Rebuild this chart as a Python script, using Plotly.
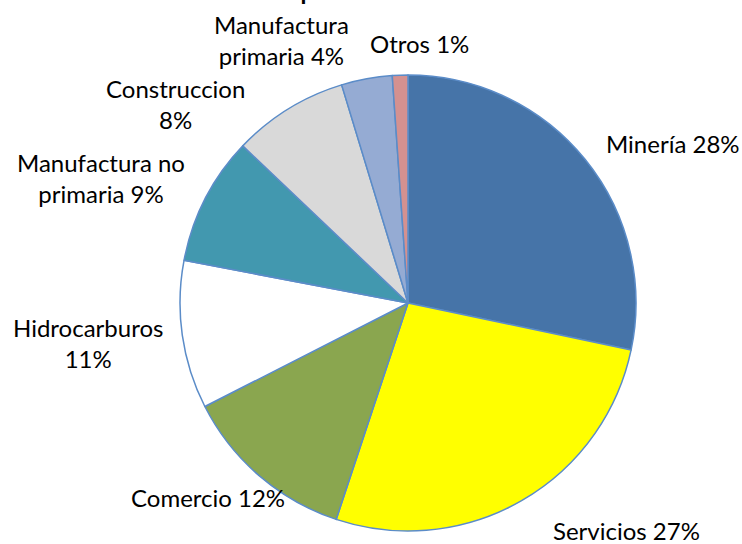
import plotly.graph_objects as go

W, H = 742, 544

categories = ["Minería", "Servicios", "Comercio", "Hidrocarburos",
              "Manufactura no primaria", "Construccion",
              "Manufactura primaria", "Otros"]
values = [28.3, 26.8, 12.4, 10.5, 9.1, 8.2, 3.6, 1.1]
pct_labels = ["28%", "27%", "12%", "11%", "9%", "8%", "4%", "1%"]
label_texts = ["Minería 28%", "Servicios 27%", "Comercio 12%",
               "Hidrocarburos<br>11%", "Manufactura no<br>primaria 9%",
               "Construccion<br>8%", "Manufactura<br>primaria 4%", "Otros 1%"]
title_text = "Recaudación por sectores<br>de Impuesto a la Renta"

colors = ["#4674A8", "#FFFF00", "#8AA64F", "#FFFFFF",
          "#4298AF", "#D9D9D9", "#95ABD3", "#D49190"]

# label centre positions in pixels (layout only)
label_px = [(673, 143), (626, 530), (208, 497), (88, 343),
            (101, 178), (175, 104), (281, 40), (419, 43)]

cx, cy, r = 408, 303, 228

fig = go.Figure(go.Pie(
    labels=categories,
    values=values,
    sort=False,
    direction="clockwise",
    rotation=0,
    textinfo="none",
    marker=dict(colors=colors, line=dict(color="#5B8CC8", width=1.5)),
    domain=dict(x=[(cx - r) / W, (cx + r) / W],
                y=[1 - (cy + r) / H, 1 - (cy - r) / H]),
    showlegend=False,
))

anns = []
for txt, (px, py) in zip(label_texts, label_px):
    anns.append(dict(x=px / W, y=1 - py / H, xref="paper", yref="paper",
                     text=txt, showarrow=False, xanchor="center",
                     yanchor="middle", align="center",
                     font=dict(family="Lato", size=24, color="#000000")))
anns.append(dict(x=362 / W, y=1 - 6.5 / H, xref="paper", yref="paper",
                 text="<b>" + title_text + "</b>", showarrow=False,
                 xanchor="center", yanchor="bottom", align="center",
                 font=dict(family="Lato", size=24, color="#000000")))

fig.update_layout(
    width=W, height=H,
    margin=dict(l=0, r=0, t=0, b=0),
    paper_bgcolor="white",
    plot_bgcolor="white",
    annotations=anns,
)

fig.write_html("out.html",
               config={"displayModeBar": False},
               post_script="document.body.style.margin='0';"
                           "document.body.style.padding='0';")
